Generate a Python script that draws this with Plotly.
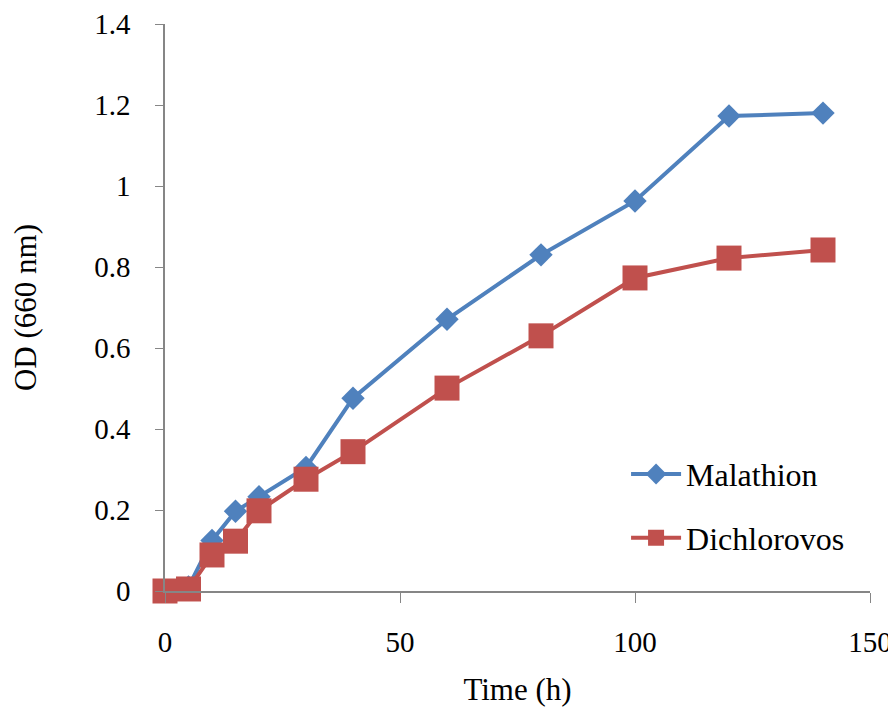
import plotly.graph_objects as go

time_h = [0, 5, 10, 15, 20, 30, 40, 60, 80, 100, 120, 140]
malathion = [0.0, 0.01, 0.125, 0.197, 0.233, 0.305, 0.476, 0.671, 0.83, 0.963, 1.173, 1.18]
dichlorovos = [0.0, 0.005, 0.089, 0.123, 0.198, 0.276, 0.344, 0.501, 0.63, 0.773, 0.822, 0.842]

x_ticks = [0, 50, 100, 150]
y_ticks = [0, 0.2, 0.4, 0.6, 0.8, 1, 1.2, 1.4]
y_tick_text = ["0", "0.2", "0.4", "0.6", "0.8", "1", "1.2", "1.4"]

font_family = "Liberation Serif, Times New Roman, serif"

fig = go.Figure()
fig.add_trace(go.Scatter(
    x=time_h, y=malathion, name="Malathion", mode="lines+markers",
    line=dict(color="#4F81BD", width=4),
    marker=dict(symbol="diamond", size=18, color="#4F81BD"),
    cliponaxis=False, legend="legend",
))
fig.add_trace(go.Scatter(
    x=time_h, y=dichlorovos, name="Dichlorovos", mode="lines+markers",
    line=dict(color="#C0504D", width=4),
    marker=dict(symbol="square", size=25, color="#C0504D"),
    cliponaxis=False, legend="legend2",
))

leg_common = dict(xanchor="left", yanchor="middle", font=dict(size=32),
                  bgcolor="rgba(0,0,0,0)", itemwidth=50)

fig.update_layout(
    width=888, height=701,
    margin=dict(l=157, r=26, t=16, b=118, autoexpand=False),
    plot_bgcolor="white", paper_bgcolor="white",
    font=dict(family=font_family, size=29, color="black"),
    showlegend=True,
    legend=dict(x=0.654, y=0.206, **leg_common),
    legend2=dict(x=0.654, y=0.0935, **leg_common),
    xaxis=dict(
        range=[0, 150], tickvals=x_ticks, showgrid=False, zeroline=False,
        automargin=False,
        showline=True, linecolor="#868686", linewidth=1.5,
        ticks="outside", ticklen=10, tickcolor="#868686",
        ticklabelstandoff=14,
        title=dict(text="Time (h)", font=dict(size=31), standoff=22),
    ),
    yaxis=dict(
        range=[0, 1.4], tickvals=y_ticks, ticktext=y_tick_text,
        showgrid=False, zeroline=False, automargin=False,
        showline=True, linecolor="#868686", linewidth=1.5,
        ticks="outside", ticklen=8, tickcolor="#868686",
        ticklabelstandoff=19,
        title=dict(text="OD (660 nm)", font=dict(size=31), standoff=58),
    ),
)

fig.write_html("out.html")
